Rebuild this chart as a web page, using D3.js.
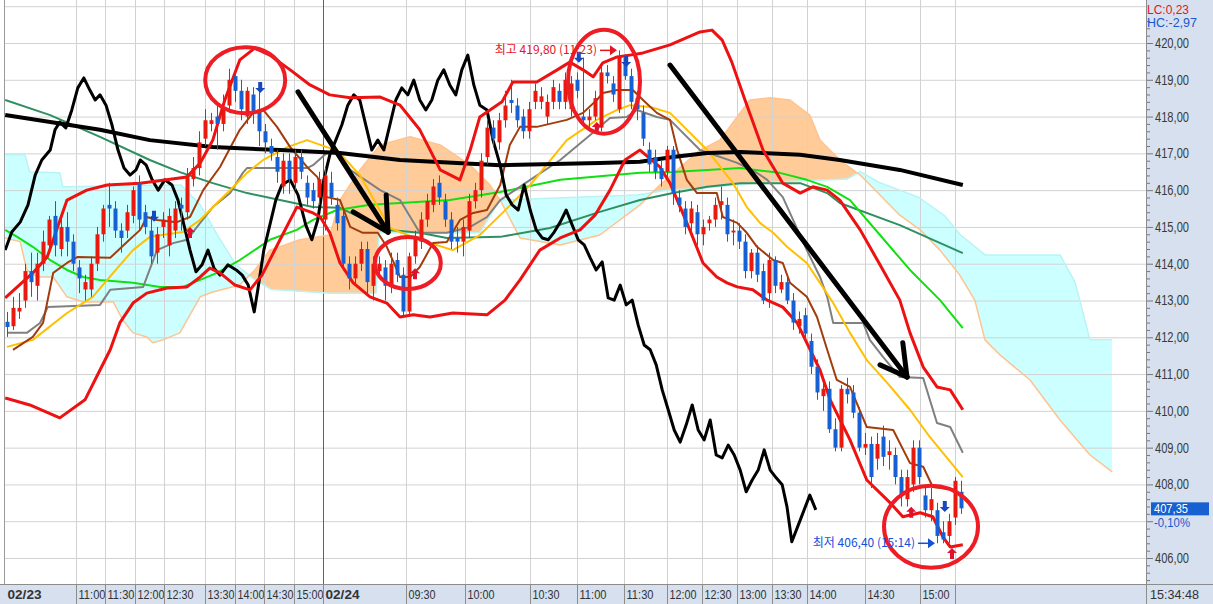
<!DOCTYPE html>
<html>
<head>
<meta charset="utf-8">
<script src="https://cdn.jsdelivr.net/npm/d3@7"></script>
<style>
  body { margin: 0; background: #fff; }
  svg { display: block; font-family: "Liberation Sans", Arial, sans-serif; }
</style>
</head>
<body>
<svg id="chart" width="1213" height="604"></svg>
<script>
// candles: [open, high, low, close], one per bar
var candles = [
  [412.42,412.69,412.01,412.28],[412.30,413.10,412.20,412.80],[412.70,413.20,412.50,412.80],[413.00,414.00,412.80,413.80],
  [413.80,414.30,413.10,413.50],[413.40,414.30,413.00,414.00],[414.00,414.90,413.80,414.60],[414.50,415.30,414.30,415.20],
  [415.30,415.70,414.20,414.50],[414.40,415.30,414.20,415.00],[415.00,415.40,414.20,414.60],[414.60,414.80,413.80,414.00],
  [413.90,414.10,413.20,413.60],[413.30,413.70,413.00,413.50],[413.30,414.20,413.10,414.00],[414.00,415.00,413.80,414.80],
  [414.80,415.60,414.60,415.50],[415.60,416.20,415.00,415.50],[415.50,415.70,414.70,414.90],[414.90,415.10,414.30,414.70],
  [414.90,415.60,414.70,415.40],[415.30,416.10,415.10,416.00],[416.20,416.40,414.90,415.20],[415.40,415.60,414.80,415.00],
  [414.90,415.30,414.00,414.20],[414.30,415.00,414.00,414.80],[415.00,415.40,414.70,415.20],[414.50,415.50,414.20,415.30],
  [414.90,415.70,414.70,415.50],[415.60,415.80,414.90,415.50],[415.40,416.60,415.20,416.40],[416.30,416.90,416.10,416.60],
  [416.60,417.60,416.40,417.30],[417.40,418.20,417.20,417.90],[417.80,418.10,417.60,417.90],[418.00,418.30,417.10,417.80],
  [417.80,418.60,417.60,418.20],[418.30,419.30,418.10,419.00],[419.10,419.30,418.40,418.70],[418.70,419.00,417.90,418.20],
  [418.00,418.80,417.80,418.70],[418.60,418.80,417.80,418.10],[418.20,418.70,417.20,417.60],[417.60,417.80,417.00,417.30],
  [417.20,417.40,416.80,417.00],[416.90,417.10,416.20,416.50],[416.10,417.00,415.90,416.80],[416.80,417.00,415.90,416.30],
  [416.20,417.10,416.00,416.90],[416.90,417.10,416.30,416.50],[416.20,416.40,415.60,415.80],[416.00,416.20,415.50,415.70],
  [415.80,416.50,415.60,416.30],[415.20,416.60,414.90,416.40],[416.20,416.50,415.60,415.80],[415.60,415.80,414.90,415.10],
  [415.30,415.50,413.80,414.00],[414.00,414.20,413.30,413.60],[413.60,414.20,413.40,414.00],[414.00,414.60,413.80,414.40],
  [414.40,414.60,413.20,413.50],[413.40,414.20,413.00,414.00],[413.80,414.20,413.60,414.00],[413.90,414.10,413.00,413.40],
  [413.40,414.30,413.20,414.00],[414.10,414.30,413.50,413.70],[413.70,413.90,412.60,412.70],[412.70,414.30,412.60,414.20],
  [414.20,414.90,414.00,414.70],[414.60,415.40,414.40,415.20],[415.20,415.90,415.00,415.70],[415.60,416.30,415.40,416.10],
  [416.20,416.40,415.60,415.80],[415.70,415.90,415.00,415.20],[415.20,415.40,414.40,414.60],[414.70,415.00,414.30,414.60],
  [414.60,415.20,414.20,415.00],[414.90,415.90,414.70,415.70],[415.70,416.20,415.50,416.00],[416.00,417.00,415.80,416.80],
  [416.90,417.90,416.70,417.70],[417.70,417.90,417.20,417.40],[417.30,418.10,417.10,417.90],[417.90,418.70,417.70,418.30],
  [418.45,419.00,418.10,418.37],[418.30,418.50,417.70,417.90],[418.00,418.20,417.40,417.60],[417.60,418.40,417.40,418.20],
  [418.40,418.90,418.20,418.70],[418.40,418.80,418.20,418.55],[418.00,418.60,417.80,418.40],[418.40,419.00,418.20,418.80],
  [418.70,418.90,418.20,418.40],[418.40,419.20,418.20,419.00],[418.20,419.10,418.00,418.90],[419.00,419.20,418.50,418.70],
  [418.00,419.60,417.80,417.90],[417.90,418.20,417.70,418.00],[418.00,418.70,417.90,418.50],[417.70,419.40,417.60,419.20],
  [419.20,419.40,418.90,419.10],[418.90,419.10,418.40,418.60],[418.20,419.80,418.10,419.60],[419.60,419.70,419.00,419.10],
  [419.10,419.30,418.20,418.40],[418.50,418.70,417.90,418.20],[418.10,418.30,417.20,417.40],[417.10,417.30,416.50,416.70],
  [416.90,417.10,416.30,416.50],[416.60,416.80,416.10,416.30],[416.50,417.20,416.30,417.10],[417.10,417.20,415.60,415.90],
  [415.80,416.00,415.40,415.60],[415.50,415.70,414.80,415.00],[415.10,415.70,414.90,415.50],[415.40,415.60,414.50,414.80],
  [414.80,415.20,414.50,415.00],[415.10,415.30,414.90,415.20],[415.20,415.80,415.00,415.60],[415.60,416.10,415.20,415.70],
  [415.60,415.80,414.60,414.80],[414.85,415.20,414.50,414.90],[414.90,415.10,414.40,414.60],[414.60,414.80,413.60,413.80],
  [413.80,414.40,413.60,414.30],[414.30,414.50,413.50,413.70],[413.80,414.00,412.90,413.00],[413.20,414.30,412.80,414.10],
  [414.10,414.20,413.20,413.40],[413.30,413.70,413.20,413.50],[413.50,413.70,412.90,413.00],[413.00,413.20,412.20,412.40],
  [412.30,412.70,412.10,412.50],[412.60,412.80,411.90,412.10],[411.90,412.10,411.00,411.20],[411.20,411.40,410.30,410.50],
  [410.40,410.80,410.00,410.60],[410.60,410.80,409.40,409.50],[409.50,409.80,408.90,409.00],[409.00,410.70,408.90,410.60],
  [410.60,410.90,410.20,410.45],[410.50,410.70,409.80,409.95],[409.95,410.10,408.90,409.00],[409.00,409.40,408.80,409.10],
  [409.10,409.30,407.90,408.20],[408.70,409.40,408.40,409.10],[409.30,409.60,408.50,408.75],[408.80,409.20,408.40,408.90],
  [408.80,409.00,408.00,408.20],[408.20,408.40,407.40,407.70],[407.60,408.40,407.40,408.20],[408.00,409.20,407.80,409.00],
  [409.00,409.20,408.00,408.20],[407.70,408.00,407.10,407.30],[407.30,407.90,407.00,407.60],[407.30,407.50,406.40,406.60],
  [406.70,407.00,406.40,406.50],[406.60,407.20,406.40,407.00],[407.10,408.20,406.90,408.10],[407.80,408.10,407.20,407.35]
];

// indicator lines, [bar, price]
var upperBand = [[-0.3,413.07],[4.3,413.75],[6.7,414.18],[10,415.73],[13.3,416.00],[16.7,416.14],[22.2,416.19],[30,416.36],[32.2,416.74],[34.3,417.36],[36.3,418.45],[38.8,419.54],[41.3,419.86],[43.8,419.67],[47.2,419.27],[50.5,418.86],[53.8,418.59],[57.2,418.51],[62.2,418.53],[65.5,418.31],[68.8,417.64],[72.2,416.55],[75.5,416.28],[77.2,417.09],[78.8,417.99],[82.5,418.40],[84.3,418.94],[88.3,418.94],[91.7,419.27],[93.8,419.48],[96,419.27],[97.7,419.08],[99.3,419.46],[101.7,419.62],[103.8,419.67],[106,419.73],[110.5,419.95],[115.5,420.30],[117.5,420.35],[119.2,420.08],[120.8,419.48],[123,418.45],[126,417.09],[129.3,416.19],[132.2,415.92],[134.3,416.09],[136.7,416.00],[138.8,415.73],[142.2,414.92],[145.5,413.97],[148.8,413.01],[150.5,412.12],[152.7,411.19],[155,410.65],[157.2,410.57],[159.3,410.03]];
var lowerBand = [[-0.3,410.35],[3.8,410.16],[8.8,409.81],[13,410.30],[15.5,411.11],[17.2,411.66],[18.8,412.39],[21,412.93],[23.3,413.20],[26.7,413.34],[30,413.37],[32.2,413.64],[33.8,413.88],[35.5,413.75],[38,413.42],[40.5,413.29],[42.5,413.69],[45.5,414.65],[48.3,415.54],[51,415.38],[52.2,415.27],[53.8,414.84],[55.5,414.02],[57.7,413.48],[60.5,413.10],[63.3,412.93],[65.5,412.55],[67.7,412.61],[70.5,412.55],[74.3,412.66],[80,412.61],[83,413.01],[85.5,413.56],[88.8,414.37],[92.2,414.70],[95.5,414.92],[98,415.32],[100.5,416.00],[103,416.82],[105.5,417.09],[108.8,416.63],[110.5,416.19],[112.2,415.54],[113.8,414.92],[116,414.02],[118.3,413.64],[120,413.48],[121.7,413.37],[124.3,413.29],[126.7,413.01],[129.3,412.82],[131.7,412.39],[133.3,411.85],[135.5,411.11],[137.2,410.30],[140.5,409.21],[143.3,408.12],[147.2,407.50],[149.3,407.12],[152.2,407.23],[154.3,407.12],[156,406.57],[157.2,406.30],[159.3,406.36]];
var maLong = [[-0.3,418.04],[7.2,417.85],[15.5,417.64],[23.8,417.36],[34.3,417.17],[45.5,417.09],[55.5,417.01],[65.5,416.82],[82.2,416.68],[98.8,416.74],[105.5,416.77],[111,416.90],[116.7,417.01],[122.2,417.04],[132.2,416.96],[138.8,416.82],[148.8,416.55],[159.3,416.14]];
var maSeaGreen = [[-0.3,418.45],[7.2,418.04],[15.5,417.45],[23.8,416.82],[28.8,416.49],[34.3,416.19],[40,415.92],[45.5,415.73],[51,415.54],[55.5,415.52],[63.3,414.92],[68.8,414.84],[73.3,414.70],[82.2,414.73],[90.5,414.97],[98.8,415.41],[105.5,415.73],[111,415.92],[116.7,416.09],[122.2,416.19],[132.2,416.19],[136.7,415.92],[138.8,415.65],[148.8,415.05],[159.3,414.29]];
var maLime = [[-0.3,414.92],[1.7,414.73],[4.3,414.46],[7.2,414.10],[10,413.83],[12.7,413.64],[15.5,413.56],[21,413.48],[25.5,413.37],[29.3,413.37],[32.2,413.56],[35,413.75],[38.8,414.10],[43.8,414.65],[48.3,414.92],[51,415.19],[55,415.46],[60.5,415.60],[65.5,415.65],[73.8,415.73],[82.2,415.95],[92.2,416.28],[98.8,416.38],[105.5,416.47],[111,416.49],[116.7,416.55],[122.2,416.60],[128.8,416.47],[133.3,416.28],[136.7,416.09],[140.5,415.73],[145.5,414.78],[150.5,413.83],[155.5,413.01],[159.3,412.25]];
var maGray = [[0,412.12],[3.3,412.12],[5.5,412.39],[6.8,412.82],[15.5,412.88],[17.2,413.29],[22.7,413.37],[25,414.37],[27.7,414.56],[30,414.65],[32.2,415.11],[34.3,415.54],[37.2,415.92],[39.3,416.47],[40,416.60],[50,416.60],[51,416.68],[53.3,417.01],[55,417.09],[57.2,416.55],[62.2,416.00],[65.5,415.73],[68.8,414.84],[73.3,414.84],[77.2,415.00],[80,415.27],[82.2,415.73],[87.2,416.28],[92.2,416.82],[97.2,417.50],[100.5,417.96],[103.3,417.99],[105,418.18],[108.3,417.99],[110.5,417.91],[115.5,417.09],[121.7,416.74],[125,416.47],[126.7,416.28],[129.3,415.81],[133.3,414.37],[135.5,413.64],[136.7,413.10],[137.7,412.39],[142.7,412.39],[143.8,411.93],[146,411.47],[148.8,410.92],[152.7,410.89],[155,409.67],[157.2,409.56],[159.3,408.86]];
var maYellow = [[0,411.74],[4.3,411.93],[10,412.66],[14.3,413.10],[17.7,413.75],[21,414.37],[23.8,414.73],[29.3,414.86],[32.2,415.19],[35,415.65],[37.2,416.00],[40,416.47],[42.7,416.82],[46.7,417.17],[50,417.36],[53.3,417.17],[55,417.09],[58.8,416.41],[63.8,414.97],[68.8,414.65],[74.3,414.37],[78.8,414.78],[82.2,415.32],[87.2,416.14],[93.3,417.36],[98.3,417.91],[101.7,418.18],[103.8,418.31],[107.2,418.26],[110.5,418.10],[116.7,417.09],[121,416.19],[123.3,415.54],[125.5,415.11],[127.7,414.84],[130,414.46],[133.3,414.02],[135.5,413.48],[137.7,412.93],[140.5,412.12],[143.3,411.38],[146.7,410.76],[150.5,410.03],[153.8,409.29],[159.3,408.20]];
var maBrown = [[1,411.66],[4.3,412.01],[6,412.39],[7.7,413.75],[10,414.02],[11.7,414.18],[17.2,414.16],[20,414.59],[22.2,414.92],[23.3,415.27],[25,415.19],[28.3,415.13],[30.5,415.27],[32.7,416.00],[35.5,416.63],[38.8,417.64],[41,418.10],[42.7,418.18],[45,417.72],[47.2,417.17],[50,416.63],[51.7,416.36],[53.3,415.81],[55.5,415.73],[57.2,415.00],[59.3,414.84],[61.8,414.84],[63.3,414.46],[65.5,413.64],[67.2,413.64],[68.8,413.91],[71,414.56],[73.3,414.59],[75.5,415.19],[77.7,415.38],[80,415.46],[82.2,416.14],[83.8,417.23],[85.5,417.72],[88.3,417.72],[93.3,417.91],[96,418.10],[98.3,418.45],[99.3,418.64],[101.7,418.72],[104.3,418.72],[106,418.45],[108.3,418.10],[110.5,417.91],[111.7,417.09],[113.3,416.28],[115,415.92],[118.3,415.92],[119.3,415.27],[121.7,415.11],[123.3,414.84],[125,414.46],[127.7,414.10],[129.3,414.02],[130.5,413.48],[133.3,413.10],[135,412.55],[136.7,411.66],[138.3,410.84],[140.5,410.65],[143.3,409.56],[147.7,409.48],[150.5,408.58],[152.7,408.48],[154.3,407.93],[158.3,407.85]];
var lagSpan = [[-0.3,414.37],[0.8,414.86],[2.2,415.13],[3.5,415.60],[4.7,416.41],[5.8,416.82],[7.2,417.09],[8,417.64],[8.8,417.85],[9.8,417.69],[10.8,418.18],[11.8,418.78],[12.8,419.05],[13.8,418.72],[14.7,418.45],[15.5,418.59],[16.5,418.31],[17.5,417.77],[18.5,417.09],[19.5,416.60],[20.5,416.41],[21.5,416.55],[22.2,416.82],[23.2,416.68],[24.2,416.28],[25.2,416.00],[26.3,416.28],[27.5,416.14],[28.5,415.73],[29.5,415.05],[30.5,414.37],[31.5,413.78],[32.5,413.97],[33.5,414.37],[34.5,413.88],[35.5,413.69],[36.8,413.97],[38.2,413.83],[39.2,413.69],[40.2,413.42],[41.2,412.69],[41.8,413.29],[42.8,414.37],[43.8,415.05],[44.8,415.73],[45.8,416.14],[47.2,416.28],[48.5,415.87],[49.8,415.05],[50.8,414.65],[51.8,415.19],[52.8,416.28],[53.8,416.96],[54.8,417.36],[55.8,417.77],[56.8,418.31],[57.8,418.59],[58.8,418.45],[59.8,417.77],[60.8,417.09],[61.8,417.36],[62.8,417.09],[63.8,417.77],[64.8,418.45],[65.8,418.78],[66.8,418.59],[67.8,418.99],[68.8,418.45],[69.8,418.18],[70.8,418.45],[71.8,418.99],[72.8,419.27],[73.8,418.86],[74.8,418.59],[75.8,419.27],[76.8,419.67],[77.8,418.86],[78.8,418.31],[80,418.18],[81,417.36],[82.2,416.68],[83.2,415.87],[84.2,415.60],[85.2,415.46],[86.2,416.14],[87.2,415.46],[88.2,414.92],[89.2,414.70],[90.2,414.65],[91.2,414.86],[92.2,415.13],[93.2,415.46],[94.2,415.05],[95.2,414.65],[96.2,414.51],[97.2,414.16],[98.2,413.83],[99.2,414.05],[100.2,413.07],[101.2,413.01],[102.2,413.42],[103.2,412.88],[104.2,413.01],[105.2,412.33],[106.2,411.79],[107.2,411.66],[108.2,411.25],[109.2,410.57],[110.2,410.03],[111.2,409.48],[112.2,409.15],[113.2,409.62],[114.2,410.16],[115.2,409.48],[116.2,409.21],[117.2,409.75],[118.2,408.80],[119.2,408.72],[120.2,409.07],[121.2,408.80],[122.2,408.39],[123.2,407.80],[124.2,408.12],[125.2,408.39],[126.2,408.94],[127.2,408.39],[128.2,408.18],[129.2,407.99],[130,407.39],[130.8,406.44],[132.2,407.03],[133.8,407.71],[134.8,407.31]];
var spanA = [[-0.3,416.96],[3,416.96],[3.8,416.49],[8.8,416.47],[9.3,416.09],[29,416.14],[32.2,415.6],[35,414.8],[38,414.0],[41,413.6],[44,413.3],[54,413.2],[61.5,413.2],[62,414.84],[78.8,414.84],[80.5,415.3],[82.2,415.73],[105,415.87],[110,416.0],[115.5,416.05],[125,416.2],[140,416.3],[142.2,416.5],[145.5,416.2],[148.8,416.0],[152,415.8],[156.3,415.3],[158.8,414.8],[163,414.24],[175.5,414.24],[178,413.5],[180.5,411.93],[184.2,411.93]];
var spanB = [[-0.3,414.7],[2.2,414.6],[3.3,413.83],[5,413.64],[7.7,413.64],[10,413.10],[12.7,412.96],[17.7,412.96],[19.3,412.47],[21,412.12],[23.3,412.01],[24.3,411.85],[26,411.93],[28.8,412.12],[32.2,413.10],[34.3,413.23],[38.8,413.42],[41.3,413.83],[43.8,414.37],[48.8,414.65],[53.8,414.78],[55.5,415.73],[58.8,416.55],[62.2,417.23],[67.2,417.45],[72.2,417.23],[77.2,416.68],[80.5,416.14],[82.2,415.73],[85.5,414.70],[92.2,414.51],[98.8,414.78],[105.5,415.60],[108.8,416.14],[115.5,417.09],[118.8,417.36],[123.8,418.45],[127.2,418.51],[130.5,418.45],[133.8,418.04],[135.5,417.36],[138.8,416.82],[142.2,416.41],[145.5,415.87],[148.8,415.32],[152.2,414.92],[155.5,414.37],[158.8,413.69],[161.3,413.01],[163,411.93],[165.5,411.52],[170.5,410.84],[175.5,409.75],[180.5,408.80],[184.2,408.34]];

// time axis
var timeTicks = [-0.3, 11.5, 16.3, 21.3, 26.2, 33, 38, 42.8, 47.8, 52.7, 66.5, 76.3, 87.2, 95, 102.8, 110, 115.8, 121.7, 127.5, 133.3, 143, 152.2, 158];
var timeLabels = ["02/23","11:00","11:30","12:00","12:30","13:30","14:00","14:30","15:00","02/24","09:30","10:00","10:30","11:00","11:30","12:00","12:30","13:00","13:30","14:00","14:30","15:00",""];
var priceTicks = d3.range(406, 421);

// markers
var upSignals = [[30.5,415.0],[68,413.88],[98.3,417.85],[150.7,407.39],[157.5,406.27]];
var downSignals = [[24.5,415.14],[42.2,418.64],[95.3,419.46],[103.2,419.35],[156.3,407.25]];
var rings = [[39.7,418.99],[66.8,414.02],[99.5,418.95],[154,406.85]];
var trendArrows = [
  {from:[48.5,418.67], to:[63.5,414.86], barbs:[[57.7,415.41],[63.2,415.87]]},
  {from:[110.5,419.40], to:[150,410.92], barbs:[[145.5,411.25],[149.3,411.85]]}
];
var hiBar = 102, hiPrice = 419.80, hiTime = "11:23";
var loBar = 155, loPrice = 406.40, loTime = "15:14";
var lcText = "LC:0,23", hcText = "HC:-2,97", lastChange = "-0,10%", clock = "15:34:48";

var svg = d3.select("#chart");
var W = 1213, H = 604, plotR = 1146, plotB = 584;

var x = d3.scaleLinear().domain([0, 159]).range([7, 961]);
var y = d3.scaleLinear().domain([406, 420]).range([558, 43]);
var comma = function(v) { return d3.format(".2f")(v).replace(".", ","); };

svg.append("defs").append("clipPath").attr("id", "plot")
  .append("rect").attr("x", 5).attr("y", 0).attr("width", plotR - 5).attr("height", plotB);

var plot = svg.append("g").attr("clip-path", "url(#plot)");

// ichimoku cloud fills (split by which span is on top)
var defs = svg.select("defs");
function clipArea(id, data, above) {
  var a = d3.area().x(function(d) { return x(d[0]); })
    .y0(above ? 0 : plotB).y1(function(d) { return y(d[1]); });
  defs.append("clipPath").attr("id", id).append("path").attr("d", a(data));
}
clipArea("aboveB", spanB, true);
clipArea("belowB", spanB, false);
clipArea("aboveA", spanA, true);
clipArea("belowA", spanA, false);

plot.append("g").attr("clip-path", "url(#aboveB)")
  .append("rect").attr("clip-path", "url(#belowA)")
  .attr("x", 0).attr("y", 0).attr("width", plotR).attr("height", plotB).attr("fill", "#ccffff");
plot.append("g").attr("clip-path", "url(#belowB)")
  .append("rect").attr("clip-path", "url(#aboveA)")
  .attr("x", 0).attr("y", 0).attr("width", plotR).attr("height", plotB).attr("fill", "#ffcc99");

// grid
plot.selectAll(".hgrid").data(priceTicks.concat([405, 421])).enter().append("line")
  .attr("x1", 5).attr("x2", plotR)
  .attr("y1", function(d) { return y(d) + 0.5; }).attr("y2", function(d) { return y(d) + 0.5; })
  .attr("stroke", "#d2d2d2");
plot.selectAll(".vgrid").data(timeTicks.slice(1)).enter().append("line")
  .attr("x1", function(d) { return Math.round(x(d)) + 0.5; })
  .attr("x2", function(d) { return Math.round(x(d)) + 0.5; })
  .attr("y1", 0).attr("y2", plotB)
  .attr("stroke", function(d, i) { return timeLabels[i + 1] == "02/24" ? "#9a4a4a" : "#d2d2d2"; });

// lines
var line = d3.line().x(function(d) { return x(d[0]); }).y(function(d) { return y(d[1]); });
function drawLine(data, color, width) {
  plot.append("path").attr("d", line(data)).attr("fill", "none")
    .attr("stroke", color).attr("stroke-width", width).attr("stroke-linejoin", "round");
}
drawLine(spanA, "#b8f4f4", 1.5);
drawLine(spanB, "#ffc38f", 1.5);
drawLine(maSeaGreen, "#2e9060", 2);
drawLine(maLime, "#10e010", 2);
drawLine(maGray, "#808080", 2);
drawLine(maYellow, "#ffc000", 2);
drawLine(maBrown, "#a23c0c", 2);
drawLine(maLong, "#000", 4);
drawLine(lagSpan, "#000", 3);
drawLine(upperBand, "#ee1111", 3);
drawLine(lowerBand, "#ee1111", 3);

// candles
var bars = plot.selectAll(".bar").data(candles).enter().append("g");
bars.append("line")
  .attr("x1", function(d, i) { return Math.round(x(i)) + 0.5; })
  .attr("x2", function(d, i) { return Math.round(x(i)) + 0.5; })
  .attr("y1", function(d) { return y(d[1]); }).attr("y2", function(d) { return y(d[2]); })
  .attr("stroke", function(d) { return d[3] >= d[0] ? "#e8190f" : "#1660d4"; });
bars.append("rect")
  .attr("x", function(d, i) { return Math.round(x(i)) - 1.5; })
  .attr("width", 4)
  .attr("y", function(d) { return y(Math.max(d[0], d[3])); })
  .attr("height", function(d) { return Math.max(1, Math.abs(y(d[0]) - y(d[3]))); })
  .attr("fill", function(d) { return d[3] >= d[0] ? "#e8190f" : "#1660d4"; });

// signal arrows
function signal(d, up) {
  var cx = x(d[0]), ty = y(d[1]), s = up ? 1 : -1;
  var p = [[cx, ty], [cx + 5, ty + 5 * s], [cx + 2, ty + 5 * s], [cx + 2, ty + 11 * s],
           [cx - 2, ty + 11 * s], [cx - 2, ty + 5 * s], [cx - 5, ty + 5 * s]];
  plot.append("path").attr("d", "M" + p.join("L") + "Z").attr("fill", up ? "#e01030" : "#1848c0");
}
upSignals.forEach(function(d) { signal(d, true); });
downSignals.forEach(function(d) { signal(d, false); });

// trend arrows
trendArrows.forEach(function(a) {
  var pts = [a.from, a.to];
  plot.append("path").attr("d", line(pts)).attr("stroke", "#000").attr("stroke-width", 5)
    .attr("stroke-linecap", "round").attr("fill", "none");
  a.barbs.forEach(function(b) {
    plot.append("path").attr("d", line([b, a.to])).attr("stroke", "#000").attr("stroke-width", 5)
      .attr("stroke-linecap", "round").attr("fill", "none");
  });
});

// rings
var ringSize = [[40, 33], [33, 26], [36, 52], [47, 41]];
plot.selectAll(".ring").data(rings).enter().append("ellipse")
  .attr("cx", function(d) { return x(d[0]); }).attr("cy", function(d) { return y(d[1]); })
  .attr("rx", function(d, i) { return ringSize[i][0]; }).attr("ry", function(d, i) { return ringSize[i][1]; })
  .attr("fill", "none").attr("stroke", "#ee1c24").attr("stroke-width", 4);

// high / low notes
function note(bar, price, label, color) {
  var px = x(bar), py = y(price);
  plot.append("text").attr("x", px - 22).attr("y", py + 4).attr("text-anchor", "end")
    .attr("font-family", "'Noto Sans CJK KR', sans-serif").attr("font-size", 12)
    .attr("fill", color).text(label);
  plot.append("line").attr("x1", px - 19).attr("x2", px - 8).attr("y1", py).attr("y2", py)
    .attr("stroke", color).attr("stroke-width", 1.5);
  plot.append("path").attr("d", "M" + (px - 9) + "," + (py - 5) + "L" + (px - 2) + "," + py + "L" + (px - 9) + "," + (py + 5) + "Z")
    .attr("fill", color);
}
note(hiBar, hiPrice, "최고 " + comma(hiPrice) + " (" + hiTime + ")", "#e8141e");
note(loBar, loPrice, "최저 " + comma(loPrice) + " (" + loTime + ")", "#1450d8");

// frame
svg.append("line").attr("x1", 4.5).attr("x2", 4.5).attr("y1", 0).attr("y2", plotB).attr("stroke", "#999");

// right axis panel
svg.append("rect").attr("x", plotR).attr("y", 0).attr("width", W - plotR).attr("height", H).attr("fill", "#d6e0ee");
svg.append("rect").attr("x", 0).attr("y", plotB).attr("width", W).attr("height", H - plotB).attr("fill", "#d6e0ee");
svg.append("line").attr("x1", 0).attr("x2", W).attr("y1", plotB + 0.5).attr("y2", plotB + 0.5).attr("stroke", "#8c8c8c");
svg.append("line").attr("x1", plotR + 0.5).attr("x2", plotR + 0.5).attr("y1", 0).attr("y2", H).attr("stroke", "#8c8c8c");

var lastClose = candles[candles.length - 1][3];

var minor = d3.range(405.4, 420.7, 0.2).filter(function(v) { return Math.abs(v - Math.round(v)) > 0.05; });
var minorAxis = d3.axisRight(y).tickValues(minor).tickSize(3).tickFormat("");
svg.append("g").attr("transform", "translate(" + (plotR + 1) + ",0)").call(minorAxis)
  .call(function(g) { g.select(".domain").remove(); g.selectAll("line").attr("stroke", "#777"); });

var yAxis = d3.axisRight(y).tickValues(priceTicks).tickSize(6).tickPadding(2)
  .tickFormat(function(v) { return Math.abs(y(v) - y(lastClose)) < 18 ? "" : comma(v); });
svg.append("g").attr("transform", "translate(" + (plotR + 1) + ",0)").call(yAxis)
  .call(function(g) {
    g.select(".domain").remove();
    g.selectAll("line").attr("stroke", "#777");
    g.selectAll("text").filter(function() { return this.textContent; })
      .attr("fill", "#3a3a3a").attr("font-size", 14)
      .attr("textLength", 34).attr("lengthAdjust", "spacingAndGlyphs");
  });

svg.append("text").attr("x", plotR + 1).attr("y", 14).attr("fill", "#e8141e").attr("font-size", 12)
  .attr("textLength", 42).attr("lengthAdjust", "spacingAndGlyphs").text(lcText);
svg.append("text").attr("x", plotR + 1).attr("y", 27).attr("fill", "#1658d0").attr("font-size", 12)
  .attr("textLength", 50).attr("lengthAdjust", "spacingAndGlyphs").text(hcText);

svg.append("rect").attr("x", plotR + 5).attr("y", y(lastClose) - 6).attr("width", 58).attr("height", 13).attr("fill", "#1660d0");
svg.append("text").attr("x", plotR + 8).attr("y", y(lastClose) + 5).attr("fill", "#fff").attr("font-size", 13)
  .attr("textLength", 34).attr("lengthAdjust", "spacingAndGlyphs").text(comma(lastClose));
svg.append("text").attr("x", plotR + 8).attr("y", y(lastClose) + 19).attr("fill", "#1658d0").attr("font-size", 12)
  .attr("textLength", 36).attr("lengthAdjust", "spacingAndGlyphs").text(lastChange);

// bottom time axis
var tAxis = svg.append("g");
timeTicks.forEach(function(t, i) {
  var px = Math.round(x(t)) + 0.5;
  if (i > 0) tAxis.append("line").attr("x1", px).attr("x2", px).attr("y1", plotB).attr("y2", H).attr("stroke", "#8c8c8c");
  var lab = timeLabels[i];
  if (!lab) return;
  var bold = lab.indexOf("/") > 0;
  tAxis.append("text").attr("x", px + 2).attr("y", 599).attr("fill", "#333")
    .attr("font-size", bold ? 13 : 12).attr("font-weight", bold ? "bold" : "normal")
    .attr("textLength", bold ? 34 : 27).attr("lengthAdjust", "spacingAndGlyphs").text(lab);
});
svg.append("text").attr("x", plotR + 4).attr("y", 599).attr("fill", "#333").attr("font-size", 13)
  .attr("textLength", 49).attr("lengthAdjust", "spacingAndGlyphs").text(clock);
</script>
</body>
</html>
